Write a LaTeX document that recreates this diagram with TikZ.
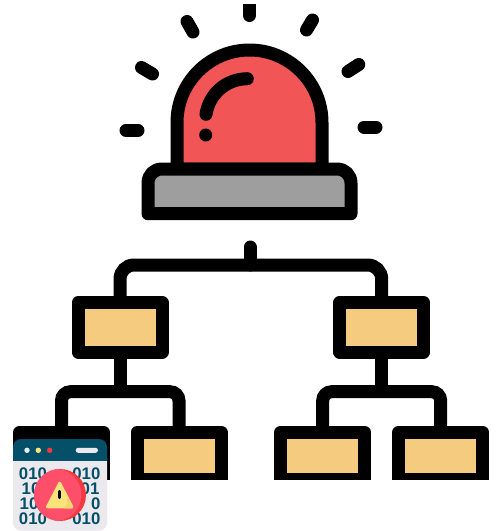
\documentclass[tikz,border=0pt]{standalone}
\usepackage{fontspec}
\setmainfont{Liberation Sans}
\definecolor{domered}{HTML}{F25555}
\definecolor{basegray}{HTML}{9E9E9E}
\definecolor{boxtan}{HTML}{F4CB7F}
\definecolor{winteal}{HTML}{045068}
\definecolor{winbody}{HTML}{ECE9EE}
\definecolor{badge}{HTML}{FD4F6A}
\definecolor{badgedark}{HTML}{F53A3F}
\definecolor{warnyellow}{HTML}{FBE27A}
\definecolor{warnshade}{HTML}{F5D56E}
\tikzset{
  ink/.style={line width=13pt,black,line cap=round,line join=round},
  wire/.style={line width=13pt,black},
  orgbox/.style={draw=black,fill=boxtan,line width=13pt,line join=round,inner sep=0pt,outer sep=0pt,minimum width=84pt,minimum height=49.4pt},
  lowbox/.style={orgbox,minimum height=47pt},
  bits/.style={font=\fontsize{16.8}{16.8}\selectfont\bfseries,text=winteal,inner sep=0pt}
}
\begin{document}
\begin{tikzpicture}[x=1pt,y=-1pt]
\useasboundingbox (0,0) rectangle (498,531);
\fill[white] (0,0) rectangle (498,531);
% rays
\begin{scope}
\clip (0,4) rectangle (498,531);
\draw[ink] (249.5,-5) -- (249.5,15.5);
\end{scope}
\draw[ink] (187,21.5) -- (193,32);
\draw[ink] (312.5,20) -- (306.5,30);
\draw[ink] (141.5,67.5) -- (152.5,74);
\draw[ink] (358.8,64.5) -- (348,71.5);
\draw[ink] (126,130.3) -- (138,130.3);
\draw[ink] (364,127) -- (376,127);
% dome
\draw[ink,fill=domered] (177,169) -- (177,122.5) .. controls (177,82.5) and (209.5,50) .. (249.5,50) .. controls (289.5,50) and (322,82.5) .. (322,122.5) -- (322,169) -- cycle;
\draw[ink] (206,114.3) .. controls (209,95) and (225,79) .. (247.3,78.7);
\fill[black] (205.7,135) circle (6.5);
% base
\draw[ink,fill=basegray] (148,213.7) -- (148,183) .. controls (148,175) and (154,169) .. (162,169) -- (337,169) .. controls (345,169) and (351,175) .. (351,183) -- (351,213.7) -- cycle;
% tree
\node[orgbox] (mL) at (120,327.3) {};
\node[orgbox] (mR) at (381.7,327.3) {};
\coordinate (stem) at (250,247);
\coordinate (hub) at (250,265);
\coordinate (hubL) at (120,391.7);
\coordinate (hubR) at (381.7,391.7);
\draw[ink] (stem) -- (hub);
\draw[wire,rounded corners=14pt] (mL.north) |- (hub) -| (mR.north);
\begin{scope}
\clip (0,0) rectangle (498,479.7);
\node[lowbox] (a) at (61.5,455.7) {};
\node[lowbox] (b) at (179,455.7) {};
\node[lowbox] (c) at (322.7,455.7) {};
\node[lowbox] (d) at (440.7,455.7) {};
\end{scope}
\draw[wire] (mL.south) -- (hubL);
\draw[wire] (mR.south) -- (hubR);
\draw[wire,rounded corners=9pt] (a.north) |- (hubL) -| (b.north);
\draw[wire,rounded corners=9pt] (c.north) |- (hubR) -| (d.north);
% window icon
\fill[winbody,rounded corners=8pt] (13,450) rectangle (107,530.7);
\fill[winteal,rounded corners=8pt] (13,439) rectangle (107,470);
\fill[winbody] (13,461) rectangle (107,472);
\fill[winbody] (27,450.3) circle (2.7);
\fill[warnyellow] (38.3,450.3) circle (2.7);
\fill[badgedark] (49.7,450.3) circle (2.7);
\fill[winbody,rounded corners=2.5pt] (75.7,447.8) rectangle (98,452.8);
\node[bits,anchor=west] (r1l) at (18.8,473.5) {010};
\node[bits,anchor=east] (r1r) at (100.6,473.5) {010};
\node[bits,anchor=west] (r2l) at (21.5,488.5) {10};
\node[bits,anchor=east] (r2r) at (99.6,488.5) {01};
\node[bits,anchor=west] (r3l) at (19.5,503.5) {10};
\node[bits,anchor=east] (r3r) at (100.6,503.5) {0};
\node[bits,anchor=west] (r4l) at (18.8,518.5) {010};
\node[bits,anchor=east] (r4r) at (100.6,518.5) {010};
% badge
\fill[badgedark] (60,495) circle (26);
\begin{scope}
\clip (60,495) circle (26);
\fill[badge] (55.5,495) circle (26);
\end{scope}
\fill[warnyellow,draw=warnyellow,line width=3pt,line join=round] (59.7,483.2) -- (47.5,506.8) -- (71.8,506.8) -- cycle;
\fill[warnshade] (67,496) -- (73.3,508.3) -- (64,508.3) .. controls (67.5,505) and (68,501) .. (67,496) -- cycle;
\draw[black,line width=2.6pt,line cap=round] (59.7,491.2) -- (59.7,497.8);
\end{tikzpicture}
\end{document}
